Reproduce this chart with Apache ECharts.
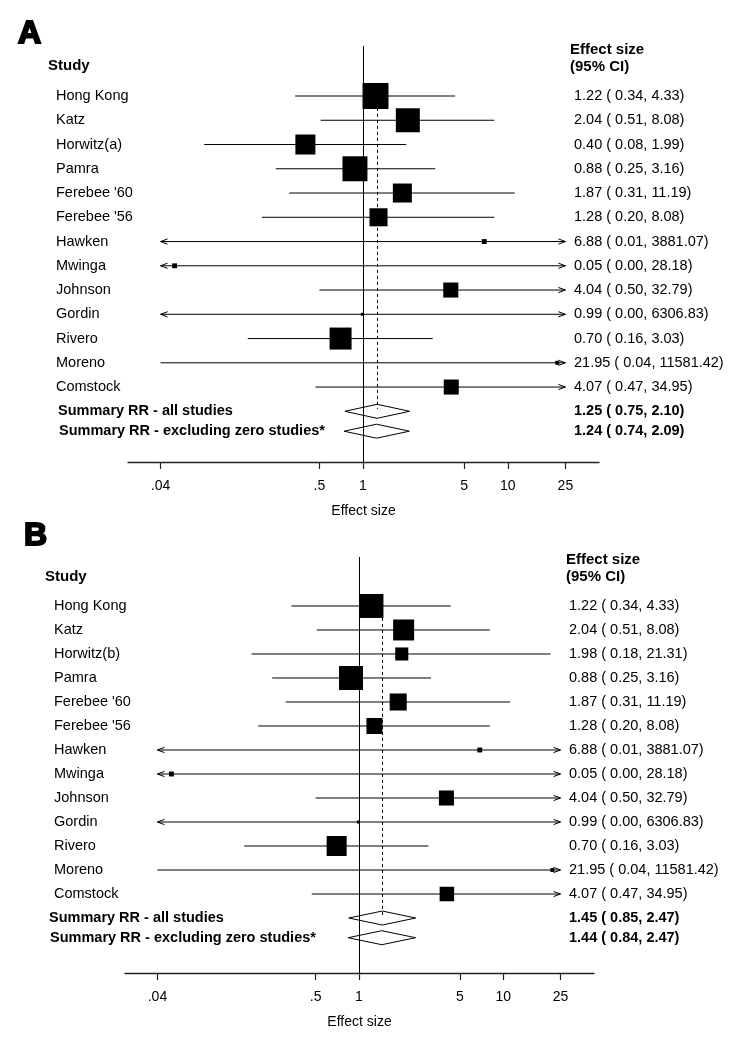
<!DOCTYPE html>
<html>
<head>
<meta charset="utf-8">
<script src="https://cdn.jsdelivr.net/npm/echarts@6/dist/echarts.min.js"></script>
<style>
  html, body { margin: 0; padding: 0; background: #fff; }
  #chart { width: 750px; height: 1039px; }
</style>
</head>
<body>
<div id="chart"></div>
<script>
// ---------------- data ----------------
const tickValues = [0.04, 0.5, 1, 5, 10, 25];
const tickLabels = ['.04', '.5', '1', '5', '10', '25'];

const studiesA = ['Hong Kong', 'Katz', 'Horwitz(a)', 'Pamra', "Ferebee '60", "Ferebee '56", 'Hawken', 'Mwinga', 'Johnson', 'Gordin', 'Rivero', 'Moreno', 'Comstock'];
const effectA = [1.22, 2.04, 0.40, 0.88, 1.87, 1.28, 6.88, 0.05, 4.04, 0.99, 0.70, 21.95, 4.07];
const lowerA  = [0.34, 0.51, 0.08, 0.25, 0.31, 0.20, 0.01, 0.00, 0.50, 0.00, 0.16, 0.04, 0.47];
const upperA  = [4.33, 8.08, 1.99, 3.16, 11.19, 8.08, 3881.07, 28.18, 32.79, 6306.83, 3.03, 11581.42, 34.95];
const weightA = [17.0, 14.5, 10.1, 15.7, 9.1, 8.2, 0.6, 0.6, 5.7, 0.2, 12.2, 0.4, 5.7];

const studiesB = ['Hong Kong', 'Katz', 'Horwitz(b)', 'Pamra', "Ferebee '60", "Ferebee '56", 'Hawken', 'Mwinga', 'Johnson', 'Gordin', 'Rivero', 'Moreno', 'Comstock'];
const effectB = [1.22, 2.04, 1.98, 0.88, 1.87, 1.28, 6.88, 0.05, 4.04, 0.99, 0.70, 21.95, 4.07];
const lowerB  = [0.34, 0.51, 0.18, 0.25, 0.31, 0.20, 0.01, 0.00, 0.50, 0.00, 0.16, 0.04, 0.47];
const upperB  = [4.33, 8.08, 21.31, 3.16, 11.19, 8.08, 3881.07, 28.18, 32.79, 6306.83, 3.03, 11581.42, 34.95];
const weightB = [14.5, 11.1, 4.3, 14.5, 7.3, 6.5, 0.6, 0.6, 5.7, 0.2, 10.1, 0.4, 5.3];

const summaryLabels = ['Summary RR - all studies', 'Summary RR - excluding zero studies*'];
const summaryEffectA = [1.25, 1.24];
const summaryLowerA  = [0.75, 0.74];
const summaryUpperA  = [2.10, 2.09];
const summaryEffectB = [1.45, 1.44];
const summaryLowerB  = [0.85, 0.84];
const summaryUpperB  = [2.47, 2.47];

// ---------------- helpers ----------------
const FONT = "'Liberation Sans', Arial, Helvetica, sans-serif";
const clipMin = tickValues[0], clipMax = tickValues[tickValues.length - 1];
const lg = v => Math.log10(v);
const f2 = v => v.toFixed(2);
const ciText = (e, l, u) => f2(e) + ' ( ' + f2(l) + ', ' + f2(u) + ')';

const panels = [
  { letter: 'A', studies: studiesA, effect: effectA, lower: lowerA, upper: upperA, weight: weightA,
    sEff: summaryEffectA, sLo: summaryLowerA, sHi: summaryUpperA,
    grid: { left: 128, width: 471, top: 46, height: 416 }, yMin: -2.062, yMax: 15.09,
    nameX: 56, sumX: 58, valX: 574, hdrX: 570, studyX: 48, studyY: 66, hdrY: 50, letterX: 18, letterY: 34 },
  { letter: 'B', studies: studiesB, effect: effectB, lower: lowerB, upper: upperB, weight: weightB,
    sEff: summaryEffectB, sLo: summaryLowerB, sHi: summaryUpperB,
    grid: { left: 125, width: 469, top: 557, height: 416 }, yMin: -2.04, yMax: 15.29,
    nameX: 54, sumX: 49, valX: 569, hdrX: 566, studyX: 45, studyY: 577, hdrY: 560, letterX: 24, letterY: 536 }
];

function tickLabelFor(v) {
  for (let i = 0; i < tickValues.length; i++) {
    if (Math.abs(lg(tickValues[i]) - v) < 1e-6) return tickLabels[i];
  }
  return '';
}

function arrow(x, y, dir) {
  return { type: 'polyline', shape: { points: [[x - dir * 7, y - 2.6], [x, y], [x - dir * 7, y + 2.6]] },
           style: { stroke: '#000', lineWidth: 1, fill: null } };
}

const grids = [], xAxes = [], yAxes = [], series = [], graphics = [];

panels.forEach((p, g) => {
  grids.push(p.grid);
  xAxes.push({
    gridIndex: g, type: 'value', min: -1.623, max: 1.630,
    axisLine: { show: true, onZero: false, lineStyle: { color: '#222', width: 1.3 } },
    axisTick: { show: true, customValues: tickValues.map(lg), length: 7, inside: false, lineStyle: { color: '#222', width: 1.2 } },
    axisLabel: { customValues: tickValues.map(lg), formatter: v => tickLabelFor(v), margin: 17,
                 color: '#000', fontSize: 14, fontFamily: FONT },
    splitLine: { show: false },
    name: 'Effect size', nameLocation: 'middle', nameGap: 42,
    nameTextStyle: { color: '#000', fontSize: 14, fontFamily: FONT }
  });
  yAxes.push({ gridIndex: g, type: 'value', inverse: true, min: p.yMin, max: p.yMax, show: false });

  // study rows
  series.push({
    type: 'custom', xAxisIndex: g, yAxisIndex: g, clip: false, animation: false,
    data: p.studies.map((s, i) => [lg(p.effect[i]), i]),
    renderItem: (params, api) => {
      const i = params.dataIndex;
      const pt = api.coord([api.value(0), api.value(1)]);
      const y = pt[1];
      const lo = p.lower[i], hi = p.upper[i];
      const xLo = api.coord([lg(Math.max(lo, clipMin)), 0])[0];
      const xHi = api.coord([lg(Math.min(hi, clipMax)), 0])[0];
      const side = Math.max(3, 6.3 * Math.sqrt(p.weight[i]));
      const children = [
        { type: 'line', shape: { x1: xLo, y1: y, x2: xHi, y2: y }, style: { stroke: '#000', lineWidth: 1 } }
      ];
      if (lo < clipMin) children.push(arrow(xLo, y, -1));
      if (hi > clipMax) children.push(arrow(xHi, y, 1));
      children.push({ type: 'rect', shape: { x: pt[0] - side / 2, y: y - side / 2, width: side, height: side },
                      style: { fill: '#000', stroke: null } });
      children.push({ type: 'text', style: { x: p.nameX, y: y, text: p.studies[i], font: '14.5px ' + FONT,
                      fill: '#000', verticalAlign: 'middle', align: 'left' } });
      children.push({ type: 'text', style: { x: p.valX, y: y, text: ciText(p.effect[i], lo, hi), font: '14.5px ' + FONT,
                      fill: '#000', verticalAlign: 'middle', align: 'left' } });
      return { type: 'group', children };
    },
    markLine: {
      silent: true, symbol: 'none', animation: false, label: { show: false },
      lineStyle: { color: '#000', width: 1, type: 'solid' },
      data: [
        { xAxis: 0 },
        [ { coord: [lg(p.sEff[0]), -0.5], lineStyle: { type: [3, 3], color: '#000', width: 1 } },
          { coord: [lg(p.sEff[0]), 12.9] } ]
      ]
    }
  });

  // summary rows
  series.push({
    type: 'custom', xAxisIndex: g, yAxisIndex: g, clip: false, animation: false,
    data: p.sEff.map((e, j) => [lg(e), 13 + j * 0.82]),
    renderItem: (params, api) => {
      const j = params.dataIndex;
      const pt = api.coord([api.value(0), api.value(1)]);
      const y = pt[1];
      const xLo = api.coord([lg(p.sLo[j]), 0])[0];
      const xHi = api.coord([lg(p.sHi[j]), 0])[0];
      return { type: 'group', children: [
        { type: 'polygon', shape: { points: [[xLo, y], [pt[0], y - 7], [xHi, y], [pt[0], y + 7]] },
          style: { fill: '#fff', stroke: '#000', lineWidth: 1 } },
        { type: 'text', style: { x: p.sumX + j, y: y, text: summaryLabels[j], font: 'bold 14.5px ' + FONT,
          fill: '#000', verticalAlign: 'middle', align: 'left' } },
        { type: 'text', style: { x: p.valX, y: y, text: ciText(p.sEff[j], p.sLo[j], p.sHi[j]), font: 'bold 14.5px ' + FONT,
          fill: '#000', verticalAlign: 'middle', align: 'left' } }
      ] };
    }
  });

  // headers
  graphics.push({ type: 'text', x: p.letterX, y: p.letterY,
    style: { text: p.letter, font: 'bold 32px ' + FONT, fill: '#000', stroke: '#000', lineWidth: 2,
             lineJoin: 'round', verticalAlign: 'middle' } });
  graphics.push({ type: 'text', x: p.studyX, y: p.studyY,
    style: { text: 'Study', font: 'bold 15px ' + FONT, fill: '#000', verticalAlign: 'middle' } });
  graphics.push({ type: 'text', x: p.hdrX, y: p.hdrY,
    style: { text: 'Effect size', font: 'bold 15px ' + FONT, fill: '#000', verticalAlign: 'middle' } });
  graphics.push({ type: 'text', x: p.hdrX, y: p.hdrY + 16.5,
    style: { text: '(95% CI)', font: 'bold 15px ' + FONT, fill: '#000', verticalAlign: 'middle' } });
});

const chart = echarts.init(document.getElementById('chart'), null, { renderer: 'canvas' });
chart.setOption({
  backgroundColor: '#fff',
  animation: false,
  grid: grids,
  xAxis: xAxes,
  yAxis: yAxes,
  series: series,
  graphic: graphics
});
</script>
</body>
</html>
